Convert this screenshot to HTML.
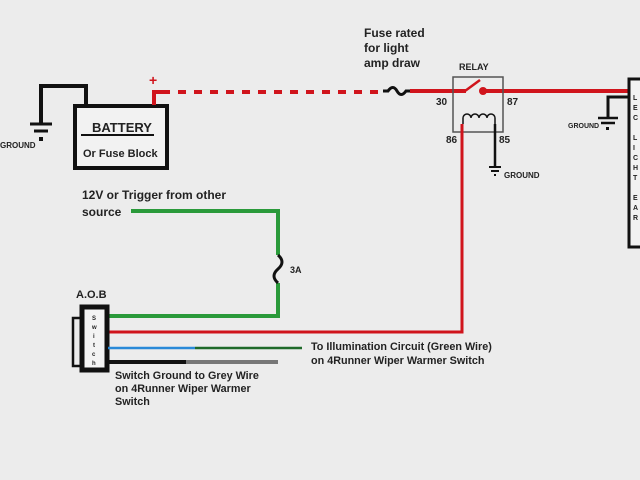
<!DOCTYPE html>
<html><head><style>
html,body{margin:0;padding:0;background:#ececec;}
svg{display:block;}
text{font-family:"Liberation Sans",sans-serif;font-weight:bold;fill:#222;}
</style></head><body>
<svg width="640" height="480" viewBox="0 0 640 480">
<rect width="640" height="480" fill="#ececec"/>
<polyline points="86,106 86,86 41,86 41,124" fill="none" stroke="#111" stroke-width="4"/>
<line x1="30" y1="124" x2="52" y2="124" stroke="#111" stroke-width="3"/>
<line x1="34" y1="131" x2="48" y2="131" stroke="#111" stroke-width="3"/>
<rect x="39" y="137" width="4" height="4" fill="#111"/>
<text x="0" y="148" font-size="8">GROUND</text>
<rect x="75" y="106" width="92" height="62" fill="#f2f2f2" stroke="#111" stroke-width="4"/>
<text x="92" y="132" font-size="13">BATTERY</text>
<line x1="81" y1="135" x2="154" y2="135" stroke="#111" stroke-width="2"/>
<text x="83" y="157" font-size="11">Or Fuse Block</text>
<polyline points="154,105 154,92 162,92" fill="none" stroke="#d0141c" stroke-width="4"/>
<line x1="162" y1="92" x2="385" y2="92" stroke="#d0141c" stroke-width="4" stroke-dasharray="8,8"/>
<text x="149" y="85" font-size="14" style="fill:#d0141c">+</text>
<path d="M383,91 L388,91 Q393,84 397,91 Q401,98 406,91 L410,91" fill="none" stroke="#111" stroke-width="3"/>
<text x="364" y="37" font-size="12">Fuse rated</text>
<text x="364" y="52" font-size="12">for light</text>
<text x="364" y="67" font-size="12">amp draw</text>
<line x1="410" y1="91" x2="466" y2="91" stroke="#d0141c" stroke-width="4"/>
<line x1="482" y1="91" x2="630" y2="91" stroke="#d0141c" stroke-width="4"/>
<rect x="453" y="77" width="50" height="55" fill="none" stroke="#555" stroke-width="1.5"/>
<text x="459" y="70" font-size="9">RELAY</text>
<line x1="465" y1="91" x2="480" y2="80" stroke="#d0141c" stroke-width="2.5"/>
<circle cx="483" cy="91" r="4" fill="#d0141c"/>
<path d="M463,124 v-6 a4,4 0 0 1 8,0 a4,4 0 0 1 8,0 a4,4 0 0 1 8,0 a4,4 0 0 1 8,0 v6" fill="none" stroke="#111" stroke-width="1.5"/>
<text x="436" y="105" font-size="10">30</text>
<text x="507" y="105" font-size="10">87</text>
<text x="446" y="143" font-size="10">86</text>
<text x="499" y="143" font-size="10">85</text>
<line x1="495" y1="124" x2="495" y2="167" stroke="#111" stroke-width="2.5"/>
<line x1="489" y1="167" x2="501" y2="167" stroke="#111" stroke-width="2"/>
<line x1="491" y1="171" x2="499" y2="171" stroke="#111" stroke-width="2"/>
<line x1="494" y1="175" x2="496" y2="175" stroke="#111" stroke-width="2"/>
<text x="504" y="178" font-size="8">GROUND</text>
<polyline points="462,124 462,332 108,332" fill="none" stroke="#d0141c" stroke-width="3"/>
<rect x="629" y="79" width="20" height="168" fill="#f2f2f2" stroke="#111" stroke-width="3"/>
<g font-size="7"><text x="633" y="100">L</text><text x="633" y="110">E</text><text x="633" y="120">C</text>
<text x="633" y="140">L</text><text x="633" y="150">I</text><text x="633" y="160">C</text><text x="633" y="170">H</text><text x="633" y="180">T</text>
<text x="633" y="200">E</text><text x="633" y="210">A</text><text x="633" y="220">R</text></g>
<polyline points="629,97 608,97 608,118" fill="none" stroke="#111" stroke-width="3"/>
<line x1="598" y1="118" x2="618" y2="118" stroke="#111" stroke-width="2.5"/>
<line x1="601" y1="123" x2="615" y2="123" stroke="#111" stroke-width="2.5"/>
<rect x="606" y="127" width="3" height="3" fill="#111"/>
<text x="568" y="128" font-size="7">GROUND</text>
<text x="82" y="199" font-size="12">12V or Trigger from other</text>
<text x="82" y="216" font-size="12">source</text>
<polyline points="131,211 278,211 278,255" fill="none" stroke="#2a9a3a" stroke-width="4"/>
<polyline points="278,283 278,316 108,316" fill="none" stroke="#2a9a3a" stroke-width="4"/>
<path d="M278,255 Q286,262 278,269 Q270,276 278,283" fill="none" stroke="#111" stroke-width="3"/>
<text x="290" y="273" font-size="9">3A</text>
<text x="76" y="298" font-size="11">A.O.B</text>
<rect x="73" y="318" width="9" height="48" fill="none" stroke="#111" stroke-width="2.5"/>
<rect x="82" y="307" width="25" height="63" fill="#f4f4f4" stroke="#111" stroke-width="5"/>
<text x="92" y="320" font-size="6">S</text>
<text x="92" y="329" font-size="6">w</text>
<text x="93" y="338" font-size="6">i</text>
<text x="93" y="347" font-size="6">t</text>
<text x="92" y="356" font-size="6">c</text>
<text x="92" y="365" font-size="6">h</text>
<line x1="108" y1="348" x2="195" y2="348" stroke="#2a8ad8" stroke-width="2.5"/>
<line x1="195" y1="348" x2="302" y2="348" stroke="#1f6a2a" stroke-width="2.5"/>
<line x1="108" y1="362" x2="186" y2="362" stroke="#111" stroke-width="4"/>
<line x1="186" y1="362" x2="278" y2="362" stroke="#777" stroke-width="4"/>
<text x="311" y="350" font-size="10.8">To Illumination Circuit (Green Wire)</text>
<text x="311" y="364" font-size="10.8">on 4Runner Wiper Warmer Switch</text>
<text x="115" y="379" font-size="10.8">Switch Ground to Grey Wire</text>
<text x="115" y="392" font-size="10.8">on 4Runner Wiper Warmer</text>
<text x="115" y="405" font-size="10.8">Switch</text>
</svg>
</body></html>
